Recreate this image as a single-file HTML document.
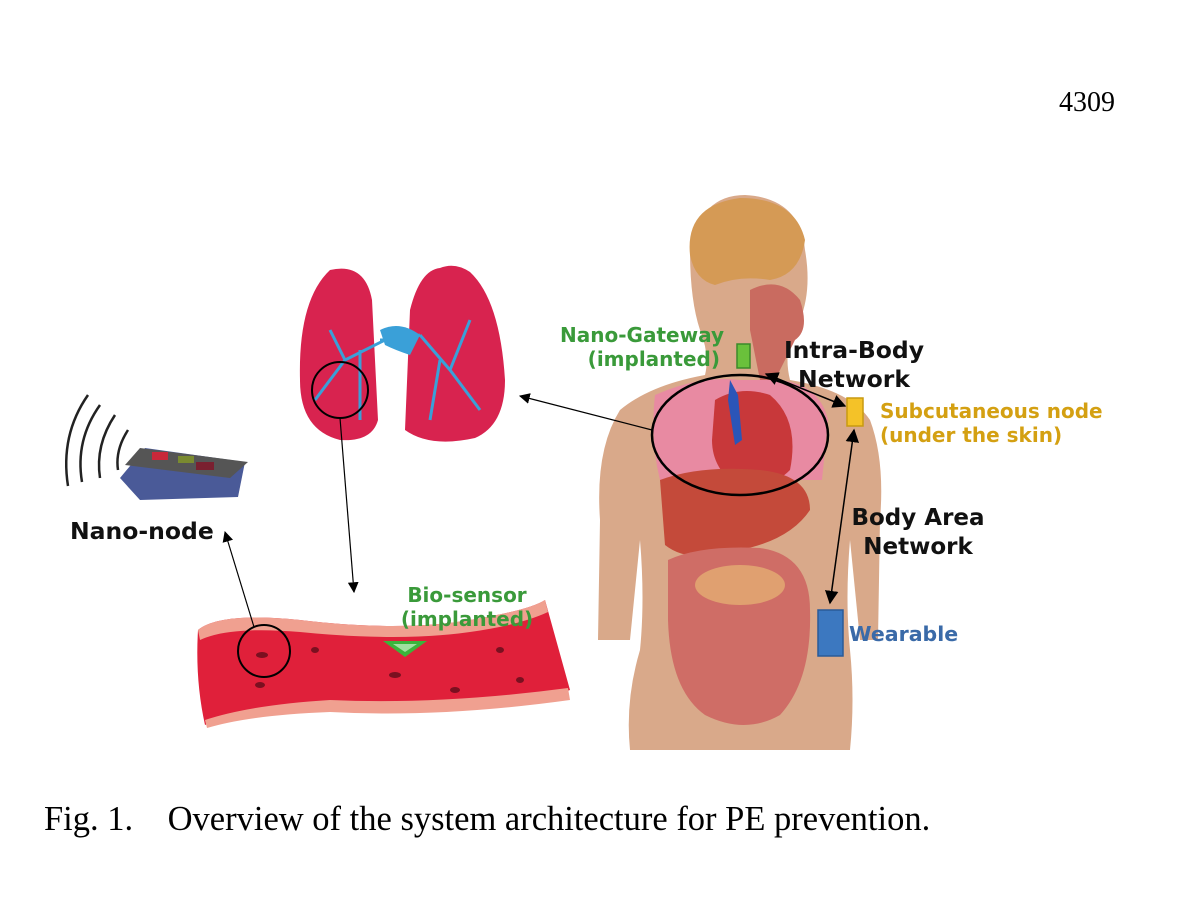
<!DOCTYPE html>
<html><head><style>
html,body{margin:0;padding:0;background:#fff;}
svg{display:block;}
</style></head><body>
<svg width="1200" height="898" viewBox="0 0 1200 898" xmlns="http://www.w3.org/2000/svg">
<defs>
<marker id="ar" viewBox="0 0 10 10" refX="9" refY="5" markerWidth="9" markerHeight="9" orient="auto-start-reverse"><path d="M0,0 L10,5 L0,10 z" fill="#000"/></marker>
</defs>
<text x="1115" y="111" font-family="Liberation Serif, serif" font-size="28" text-anchor="end">4309</text>

<!-- body -->
<path d="M700,330 Q690,300 690,250 Q700,195 745,195 Q800,198 805,250 Q812,290 800,320 L790,340 Q785,360 790,380 Q850,390 870,420 Q885,460 880,520 L878,640 L860,640 L850,540 Q845,600 850,650 Q855,700 850,750 L630,750 Q625,700 640,650 Q645,600 640,540 L630,640 L598,640 L600,520 Q595,450 620,410 Q650,385 705,375 Q710,355 700,330 z" fill="#d9a98a"/>
<path d="M690,255 Q685,205 740,198 Q795,198 805,240 Q800,275 770,280 Q740,275 715,285 Q695,280 690,255 z" fill="#d59a55"/>
<path d="M750,290 Q780,275 800,300 Q810,330 795,340 L775,380 L760,380 L750,330 z" fill="#c96b60"/>
<path d="M655,395 Q700,375 740,380 L780,380 Q820,385 828,420 L822,480 L660,480 Q650,440 655,395 z" fill="#e88aa2"/>
<path d="M715,400 Q740,385 770,395 Q800,420 790,470 Q770,490 740,488 Q712,470 712,440 z" fill="#c8383a"/>
<path d="M730,380 L738,395 L742,440 L735,445 L728,400 z" fill="#2b55b8"/>
<path d="M660,480 Q700,465 760,470 Q810,475 810,510 Q790,540 740,550 Q690,565 665,545 z" fill="#c44a3a"/>
<path d="M668,560 Q700,545 760,548 Q810,555 810,610 Q812,680 780,715 Q745,735 705,715 Q670,690 668,620 z" fill="#cf6d66"/>
<ellipse cx="740" cy="585" rx="45" ry="20" fill="#e0a070"/>

<ellipse cx="740" cy="435" rx="88" ry="60" fill="none" stroke="#000" stroke-width="2.5"/>

<rect x="737" y="344" width="13" height="24" fill="#6ac13b" stroke="#3a8a2a" stroke-width="1.5"/>
<rect x="847" y="398" width="16" height="28" fill="#f4c228" stroke="#c89a10" stroke-width="1.5"/>
<rect x="818" y="610" width="25" height="46" fill="#3c78c0" stroke="#2a5a98" stroke-width="1.5"/>

<line x1="766" y1="374" x2="845" y2="406" stroke="#000" stroke-width="1.5" marker-start="url(#ar)" marker-end="url(#ar)"/>
<line x1="854" y1="430" x2="830" y2="603" stroke="#000" stroke-width="1.5" marker-start="url(#ar)" marker-end="url(#ar)"/>
<line x1="652" y1="430" x2="520" y2="396" stroke="#000" stroke-width="1.2" marker-end="url(#ar)"/>

<!-- lungs -->
<path d="M330,270 Q365,262 372,300 L378,420 Q372,442 340,440 Q300,430 300,380 Q298,300 330,270 z" fill="#d8234f"/>
<path d="M440,268 Q420,270 410,310 L405,430 Q430,448 475,438 Q505,425 505,380 Q500,300 470,272 Q455,262 440,268 z" fill="#d8234f"/>
<g stroke="#3aa0d8" stroke-width="3" fill="none">
<path d="M380,340 L400,340 L420,335 M385,340 L345,360 L315,400 M345,360 L330,330 M360,350 L360,420 M420,335 L450,370 L480,410 M450,370 L470,320 M440,360 L430,420"/>
</g>
<path d="M380,330 Q400,320 420,335 L410,355 Q395,350 385,345 z" fill="#3aa0d8"/>
<circle cx="340" cy="390" r="28" fill="none" stroke="#000" stroke-width="2"/>
<line x1="340" y1="418" x2="354" y2="592" stroke="#000" stroke-width="1.2" marker-end="url(#ar)"/>

<!-- vessel -->
<path d="M198,630 Q220,612 300,620 Q400,632 470,620 Q530,610 545,600 L570,690 Q520,710 440,705 Q330,700 250,710 Q225,715 205,725 Q195,680 198,630 z" fill="#e0203a"/>
<path d="M198,630 Q220,612 300,620 Q400,632 470,620 Q530,610 545,600 L548,612 Q520,625 470,632 Q400,642 300,632 Q230,626 200,640 z" fill="#f0a090"/>
<path d="M205,720 Q250,705 330,700 Q440,705 568,688 L570,700 Q440,718 330,712 Q250,715 207,728 z" fill="#f0a090"/>
<g fill="#7a1020">
<ellipse cx="262" cy="655" rx="6" ry="3"/><ellipse cx="315" cy="650" rx="4" ry="3"/><ellipse cx="395" cy="675" rx="6" ry="3"/>
<ellipse cx="455" cy="690" rx="5" ry="3"/><ellipse cx="520" cy="680" rx="4" ry="3"/><ellipse cx="260" cy="685" rx="5" ry="3"/><ellipse cx="500" cy="650" rx="4" ry="3"/>
</g>
<polygon points="383,641 427,641 405,657" fill="#3bb43b"/>
<polygon points="393,644 417,644 405,652" fill="#a0e0a0"/>
<circle cx="264" cy="651" r="26" fill="none" stroke="#000" stroke-width="2"/>
<line x1="254" y1="627" x2="225" y2="532" stroke="#000" stroke-width="1.2" marker-end="url(#ar)"/>

<!-- nano node -->
<g fill="none" stroke="#222" stroke-width="2.5">
<path d="M128,430 Q115,450 118,470"/><path d="M115,415 Q95,445 100,478"/><path d="M100,405 Q75,440 82,482"/><path d="M88,395 Q60,435 68,486"/>
</g>
<polygon points="120,478 145,448 245,462 238,497 140,500" fill="#4a5a98"/>
<polygon points="140,448 248,462 230,478 125,465" fill="#555"/>
<rect x="152" y="452" width="16" height="8" fill="#c8283a"/>
<rect x="178" y="456" width="16" height="7" fill="#7a8a30"/>
<rect x="196" y="462" width="18" height="8" fill="#7a2030"/>

<g font-family="DejaVu Sans, sans-serif" font-weight="bold">
<text x="724" y="342" font-size="20" fill="#3a9a3a" text-anchor="end">Nano-Gateway</text>
<text x="720" y="366" font-size="20" fill="#3a9a3a" text-anchor="end">(implanted)</text>
<text x="854" y="358" font-size="23.5" fill="#111" text-anchor="middle">Intra-Body</text>
<text x="854" y="387" font-size="23.5" fill="#111" text-anchor="middle">Network</text>
<text x="880" y="418" font-size="20" fill="#d4a012">Subcutaneous node</text>
<text x="880" y="442" font-size="20" fill="#d4a012">(under the skin)</text>
<text x="918" y="525" font-size="23" fill="#111" text-anchor="middle">Body Area</text>
<text x="918" y="554" font-size="23" fill="#111" text-anchor="middle">Network</text>
<text x="849" y="641" font-size="20.5" fill="#3a6aa8">Wearable</text>
<text x="70" y="539" font-size="23.5" fill="#111">Nano-node</text>
<text x="467" y="602" font-size="20" fill="#3a9a3a" text-anchor="middle">Bio-sensor</text>
<text x="467" y="626" font-size="20" fill="#3a9a3a" text-anchor="middle">(implanted)</text>
</g>

<text x="44" y="830" font-family="Liberation Serif, serif" font-size="34.5">Fig. 1.&#160;&#160;&#160;&#160;Overview of the system architecture for PE prevention.</text>
</svg>
</body></html>
